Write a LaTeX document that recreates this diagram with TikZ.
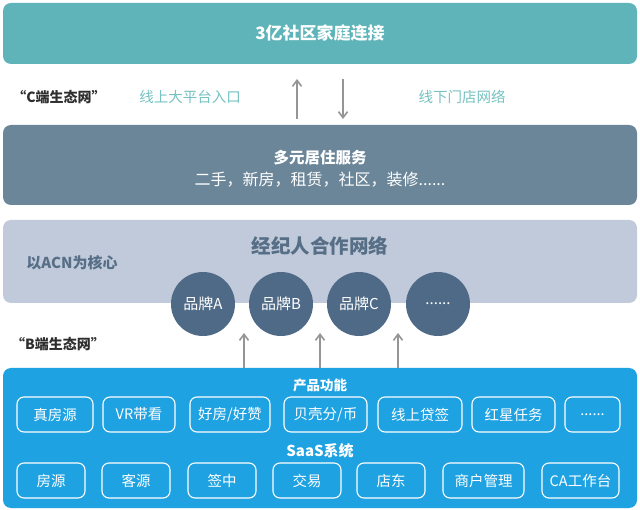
\documentclass[tikz,border=0pt]{standalone}
\usepackage{fontspec}
\setmainfont{Noto Sans CJK SC}
\usetikzlibrary{arrows.meta}
\definecolor{topteal}{HTML}{5FB4B9}
\definecolor{lightteal}{HTML}{76C2C2}
\definecolor{slatebox}{HTML}{6C8699}
\definecolor{palebox}{HTML}{C0CADA}
\definecolor{darkslate}{HTML}{566E86}
\definecolor{circfill}{HTML}{4F6A86}
\definecolor{arrgray}{HTML}{959595}
\definecolor{bluebox}{HTML}{1FA2E2}
\definecolor{labeldark}{HTML}{2E2E2E}
\tikzset{
  band/.style={rounded corners=8pt, draw=none},
  brand/.style={circle, fill=circfill, minimum size=64pt, inner sep=0pt, text=white, font=\fontsize{15}{17}\selectfont},
  featbox/.style={draw=white, line width=1.1pt, rounded corners=7pt, text=white, font=\fontsize{14.5}{17}\selectfont, inner sep=0pt},
  flowarrow/.style={draw=arrgray, line width=1.6pt, -{Straight Barb[length=6pt,width=9pt]}},
  sidelabel/.style={text=labeldark, font=\bfseries\fontsize{14}{16}\selectfont},
  tealtext/.style={text=lightteal, font=\fontsize{14.5}{17}\selectfont},
}
\begin{document}
\begin{tikzpicture}[x=1pt,y=-1pt]
\useasboundingbox[fill=white] (0,0) rectangle (640,510);
% top band
\fill[topteal, band] (3,3) rectangle (637,64);
\node[text=white, font=\bfseries\fontsize{17}{20}\selectfont] (top) at (320,33) {3亿社区家庭连接};
% C row
\node[sidelabel] (clab) at (59,97) {“C端生态网”};
\node[tealtext] (online) at (190,97) {线上大平台入口};
\node[tealtext] (offline) at (462,97) {线下门店网络};
\coordinate (upS) at (297,119);
\coordinate (upE) at (297,79);
\coordinate (dnS) at (343,79);
\coordinate (dnE) at (343,119);
\draw[flowarrow] (upS) -- (upE);
\draw[flowarrow] (dnS) -- (dnE);
% second band
\fill[slatebox, band] (3,125) rectangle (637,205);
\node[text=white, font=\bfseries\fontsize{15.5}{18}\selectfont] (svc) at (320,158) {多元居住服务};
\node[text=white, font=\fontsize{16}{18}\selectfont] (svc2) at (320,180) {二手，新房，租赁，社区，装修......};
% third band
\fill[palebox, band] (3,220) rectangle (637,303);
\node[text=darkslate, font=\bfseries\fontsize{19.5}{22}\selectfont] (acn) at (320,246) {经纪人合作网络};
\node[text=darkslate, font=\bfseries\fontsize{15}{17}\selectfont] (acncore) at (72,263) {以ACN为核心};
\node[brand] (bA) at (203,304) {品牌A};
\node[brand] (bB) at (281,304) {品牌B};
\node[brand] (bC) at (359,304) {品牌C};
\node[brand] (bD) at (438,304) {......};
% B row
\node[sidelabel] (blab) at (58,344) {“B端生态网”};
% bottom band
\fill[bluebox, band] (3,368) rectangle (637,508);
\coordinate (a1s) at (244,368);
\coordinate (a1e) at (244,333);
\coordinate (a2s) at (320,368);
\coordinate (a2e) at (320,333);
\coordinate (a3s) at (398,368);
\coordinate (a3e) at (398,333);
\draw[flowarrow] (a1s) -- (a1e);
\draw[flowarrow] (a2s) -- (a2e);
\draw[flowarrow] (a3s) -- (a3e);
\node[text=white, font=\bfseries\fontsize{13.5}{16}\selectfont] (prod) at (320,385) {产品功能};
\node[text=white, font=\bfseries\fontsize{15}{17}\selectfont] (saas) at (320,451) {SaaS系统};
% row 1
\node[featbox, minimum width=76pt, minimum height=35pt] (f1) at (55,414.5) {真房源};
\node[featbox, minimum width=72pt, minimum height=35pt] (f2) at (139,414.5) {VR带看};
\node[featbox, minimum width=80pt, minimum height=35pt] (f3) at (230,414.5) {好房/好赞};
\node[featbox, minimum width=83pt, minimum height=35pt] (f4) at (325.5,414.5) {贝壳分/币};
\node[featbox, minimum width=84pt, minimum height=35pt] (f5) at (420,414.5) {线上贷签};
\node[featbox, minimum width=83pt, minimum height=35pt] (f6) at (513.5,414.5) {红星任务};
\node[featbox, minimum width=55pt, minimum height=35pt] (f7) at (592.5,414.5) {......};
% row 2
\node[featbox, minimum width=68pt, minimum height=35pt] (s1) at (51,480.5) {房源};
\node[featbox, minimum width=68pt, minimum height=35pt] (s2) at (136,480.5) {客源};
\node[featbox, minimum width=68pt, minimum height=35pt] (s3) at (222,480.5) {签中};
\node[featbox, minimum width=68pt, minimum height=35pt] (s4) at (307,480.5) {交易};
\node[featbox, minimum width=68pt, minimum height=35pt] (s5) at (391,480.5) {店东};
\node[featbox, minimum width=81pt, minimum height=35pt] (s6) at (483.5,480.5) {商户管理};
\node[featbox, minimum width=77pt, minimum height=35pt] (s7) at (580.5,480.5) {CA工作台};
\end{tikzpicture}
\end{document}
